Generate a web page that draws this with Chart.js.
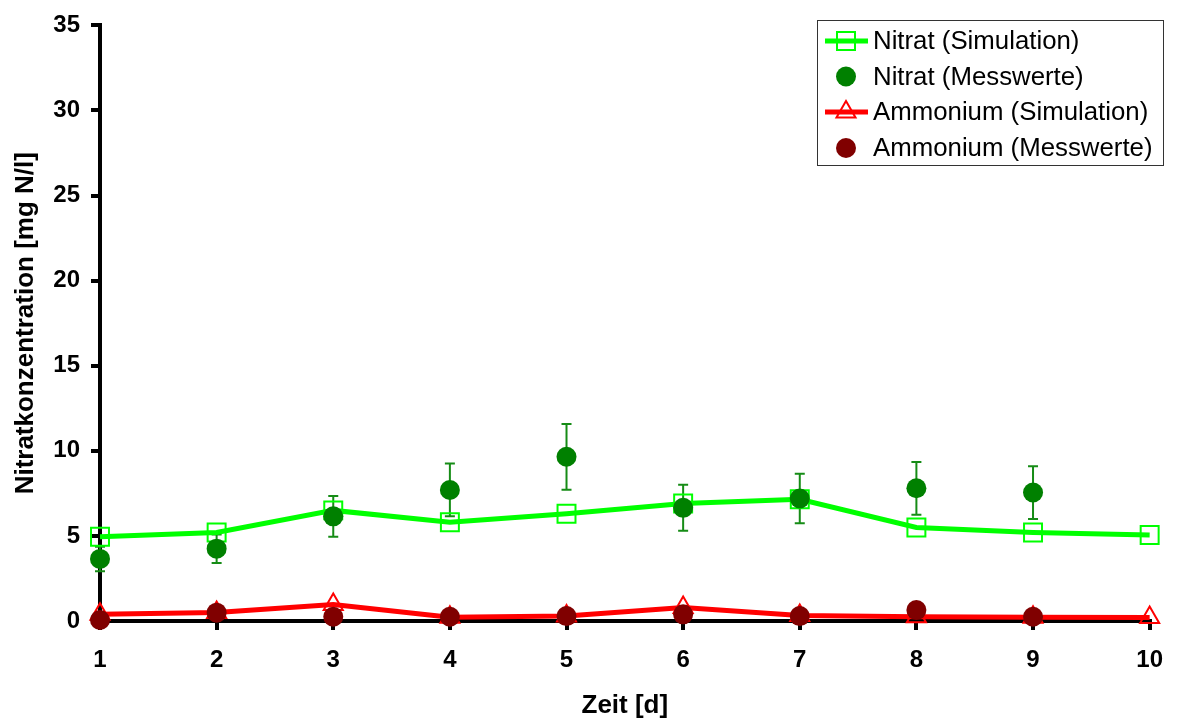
<!DOCTYPE html>
<html>
<head>
<meta charset="utf-8">
<script src="https://cdn.jsdelivr.net/npm/chart.js@4/dist/chart.umd.min.js"></script>
<style>
  html, body { margin: 0; padding: 0; background: #fff; }
  #wrap { width: 1179px; height: 722px; }
</style>
</head>
<body>
<div id="wrap"><canvas id="c" width="1179" height="722"></canvas></div>
<script>
// Tag (Zeit in d)
const days = [1, 2, 3, 4, 5, 6, 7, 8, 9, 10];
// Nitrat: Simulation und Messwerte mit Standardabweichung
const nitratSim = [4.95, 5.2, 6.5, 5.8, 6.3, 6.9, 7.15, 5.5, 5.2, 5.05];
const nitratMess = [3.65, 4.25, 6.15, 7.7, 9.65, 6.65, 7.2, 7.8, 7.55, null];
const nitratErr = [0.72, 0.84, 1.2, 1.55, 1.93, 1.35, 1.45, 1.55, 1.55, null];
// Ammonium: Simulation und Messwerte
const ammonSim = [0.4, 0.5, 0.97, 0.22, 0.3, 0.8, 0.33, 0.25, 0.22, 0.2];
const ammonMess = [0.06, 0.49, 0.25, 0.25, 0.29, 0.39, 0.29, 0.64, 0.25, null];
// Achsenbeschriftung
const yTicks = [0, 5, 10, 15, 20, 25, 30, 35];
const seriesNames = ['Nitrat (Simulation)', 'Nitrat (Messwerte)', 'Ammonium (Simulation)', 'Ammonium (Messwerte)'];

const FONT = '"Liberation Sans", Arial, Helvetica, sans-serif';
const pts = arr => days.map((d, i) => ({ x: d, y: arr[i] })).filter(p => p.y !== null);

// Fehlerbalken für die Nitrat-Messwerte
const errorBars = {
  id: 'errorBars',
  beforeDatasetsDraw(chart) {
    const { ctx, scales: { x, y } } = chart;
    ctx.save();
    ctx.strokeStyle = '#168c16';
    ctx.lineWidth = 2;
    days.forEach((d, i) => {
      const v = nitratMess[i], e = nitratErr[i];
      if (v === null || e === null) return;
      const px = x.getPixelForValue(d);
      const top = y.getPixelForValue(v + e);
      const bot = y.getPixelForValue(v - e);
      ctx.beginPath();
      ctx.moveTo(px, top); ctx.lineTo(px, bot);
      ctx.moveTo(px - 5, top); ctx.lineTo(px + 5, top);
      ctx.moveTo(px - 5, bot); ctx.lineTo(px + 5, bot);
      ctx.stroke();
    });
    ctx.restore();
  }
};

// Legende im Diagramm oben rechts
const boxLegend = {
  id: 'boxLegend',
  afterDraw(chart) {
    const { ctx } = chart;
    const bx = 817, by = 20, bw = 346, bh = 145;
    ctx.save();
    ctx.fillStyle = '#fff';
    ctx.fillRect(bx, by, bw, bh);
    ctx.strokeStyle = '#333';
    ctx.lineWidth = 1;
    ctx.strokeRect(bx + 0.5, by + 0.5, bw, bh);
    const rowY = [41, 76.5, 112, 148];
    const mx = 846;
    chart.data.datasets.forEach((ds, i) => {
      const yy = rowY[i];
      if (ds.showLine !== false) {
        ctx.strokeStyle = ds.borderColor;
        ctx.lineWidth = 5;
        ctx.beginPath();
        ctx.moveTo(825, yy); ctx.lineTo(868, yy);
        ctx.stroke();
      }
      ctx.lineWidth = 2;
      if (ds.pointStyle === 'rect') {
        ctx.strokeStyle = ds.pointBorderColor;
        ctx.strokeRect(mx - 9, yy - 9, 18, 18);
      } else if (ds.pointStyle === 'triangle') {
        const r = 11;
        ctx.strokeStyle = ds.pointBorderColor;
        ctx.beginPath();
        ctx.moveTo(mx, yy - r);
        ctx.lineTo(mx + 0.866 * r, yy + 0.5 * r);
        ctx.lineTo(mx - 0.866 * r, yy + 0.5 * r);
        ctx.closePath();
        ctx.stroke();
      } else {
        ctx.fillStyle = ds.pointBackgroundColor;
        ctx.beginPath();
        ctx.arc(mx, yy, 10, 0, Math.PI * 2);
        ctx.fill();
      }
      ctx.fillStyle = '#000';
      ctx.font = '25.8px ' + FONT;
      ctx.textBaseline = 'middle';
      ctx.textAlign = 'left';
      ctx.fillText(ds.label, 873, yy + 1);
    });
    ctx.restore();
  }
};

new Chart(document.getElementById('c'), {
  type: 'line',
  data: {
    datasets: [
      {
        label: seriesNames[0], data: pts(nitratSim), order: 2,
        borderColor: '#00ff00', borderWidth: 5, tension: 0,
        pointStyle: 'rect', pointRadius: 12.7, pointBorderWidth: 2,
        pointBorderColor: '#00ff00', pointBackgroundColor: 'rgba(0,0,0,0)', clip: false
      },
      {
        label: seriesNames[1], data: pts(nitratMess), order: 0, showLine: false,
        borderColor: '#008000', pointStyle: 'circle', pointRadius: 10, pointBorderWidth: 0,
        pointBackgroundColor: '#008000', pointBorderColor: '#008000', clip: false
      },
      {
        label: seriesNames[2], data: pts(ammonSim), order: 3,
        borderColor: '#ff0000', borderWidth: 5, tension: 0,
        pointStyle: 'triangle', pointRadius: 11, pointBorderWidth: 2,
        pointBorderColor: '#ff0000', pointBackgroundColor: 'rgba(0,0,0,0)', clip: false
      },
      {
        label: seriesNames[3], data: pts(ammonMess), order: 1, showLine: false,
        borderColor: '#800000', pointStyle: 'circle', pointRadius: 10, pointBorderWidth: 0,
        pointBackgroundColor: '#800000', pointBorderColor: '#800000', clip: false
      }
    ]
  },
  options: {
    responsive: false,
    animation: false,
    layout: { padding: { top: 21, right: 22, left: 0, bottom: 0 } },
    plugins: { legend: { display: false }, tooltip: { enabled: false } },
    scales: {
      x: {
        type: 'linear', min: 1, max: 10,
        afterBuildTicks: s => { s.ticks = days.map(v => ({ value: v })); },
        afterFit: s => { s.height = 101; },
        grid: { drawOnChartArea: false, color: '#000', tickLength: 9, tickWidth: 4, lineWidth: 4 },
        border: { color: '#000', width: 4 },
        ticks: { color: '#000', padding: 16, maxRotation: 0, font: { family: FONT, size: 24, weight: 'bold' } },
        title: { display: true, text: 'Zeit [d]', color: '#000', padding: { top: 0, bottom: 1 },
                 font: { family: FONT, size: 26, weight: 'bold' } }
      },
      y: {
        min: 0, max: 35,
        afterBuildTicks: s => { s.ticks = yTicks.map(v => ({ value: v })); },
        afterFit: s => { s.width = 100; },
        grid: { drawOnChartArea: false, color: '#000', tickLength: 9, tickWidth: 4, lineWidth: 4 },
        border: { color: '#000', width: 4 },
        ticks: { color: '#000', padding: 11, font: { family: FONT, size: 24, weight: 'bold' } },
        title: { display: true, text: 'Nitratkonzentration [mg N/l]', color: '#000', padding: { top: 10, bottom: 0 },
                 font: { family: FONT, size: 26, weight: 'bold' } }
      }
    }
  },
  plugins: [errorBars, boxLegend]
});
</script>
</body>
</html>
